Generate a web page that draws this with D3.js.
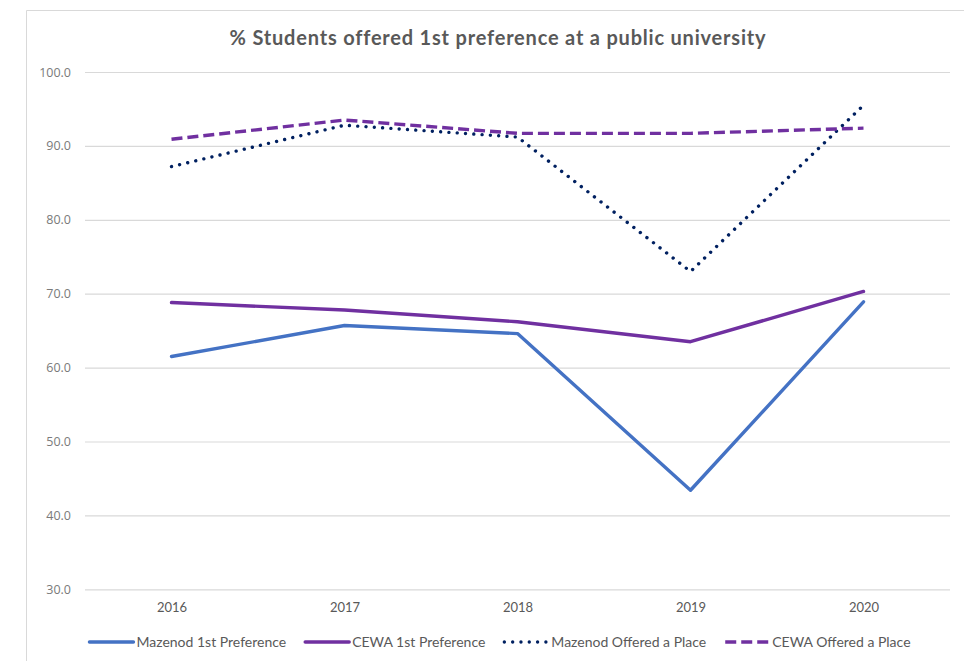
<!DOCTYPE html>
<html>
<head>
<meta charset="utf-8">
<script src="https://cdn.jsdelivr.net/npm/d3@7"></script>
<style>
  html, body { margin: 0; padding: 0; background: #ffffff; }
  svg { display: block; }
</style>
</head>
<body>
<svg id="chart" width="964" height="661"></svg>
<script>
// Years on the category axis
const years = ["2016", "2017", "2018", "2019", "2020"];

// Percentage of students per series
const mazenodFirst   = [61.5, 65.7, 64.6, 43.4, 68.9];
const cewaFirst      = [68.8, 67.8, 66.2, 63.5, 70.3];
const mazenodOffered = [87.2, 92.8, 91.2, 73.0, 95.5];
const cewaOffered    = [90.9, 93.5, 91.7, 91.7, 92.4];

// Value-axis ticks
const yTicks = [30, 40, 50, 60, 70, 80, 90, 100];

const seriesNames = ["Mazenod 1st Preference", "CEWA 1st Preference", "Mazenod Offered a Place", "CEWA Offered a Place"];
const seriesValues = [mazenodFirst, cewaFirst, mazenodOffered, cewaOffered];

const styles = [
  { color: "#4472C4", dash: null, cap: "round" },
  { color: "#7030A0", dash: null, cap: "round" },
  { color: "#002060", dash: "0.01 8.3", cap: "round" },
  { color: "#7030A0", dash: "11 5", cap: "butt" }
];

const textFont = "Lato, 'Open Sans', sans-serif";
const svg = d3.select("#chart");

// chart frame (top and left edges)
svg.append("path")
  .attr("d", "M26.5,661 L26.5,10.5 L964,10.5")
  .attr("fill", "none")
  .attr("stroke", "#d9d9d9")
  .attr("stroke-width", 1);

const plot = { left: 85, right: 950, top: 72, bottom: 589.3 };

const x = d3.scalePoint().domain(years).range([plot.left, plot.right]).padding(0.5);
const y = d3.scaleLinear().domain([30, 100]).range([plot.bottom, plot.top]);

// title
svg.append("text")
  .attr("x", 498).attr("y", 45)
  .attr("text-anchor", "middle")
  .attr("font-family", textFont)
  .attr("font-weight", "bold")
  .attr("font-size", 20)
  .attr("letter-spacing", 0.8)
  .attr("fill", "#595959")
  .text("% Students offered 1st preference at a public university");

// horizontal gridlines
const yAxis = d3.axisLeft(y)
  .tickValues(yTicks)
  .tickSize(-(plot.right - plot.left))
  .tickPadding(14)
  .tickFormat(d3.format(".1f"));

const gy = svg.append("g")
  .attr("transform", `translate(${plot.left},0)`)
  .call(yAxis);
gy.select(".domain").remove();
gy.selectAll(".tick line").attr("stroke", "#d9d9d9").attr("stroke-width", 1.2);
gy.selectAll(".tick text")
  .attr("font-family", "'Open Sans', sans-serif")
  .attr("font-size", 12.5)
  .attr("fill", "#7a7a7a");

// category labels
const xAxis = d3.axisBottom(x).tickSize(0).tickPadding(13);
const gx = svg.append("g")
  .attr("transform", `translate(0,${plot.bottom})`)
  .call(xAxis);
gx.select(".domain").remove();
gx.selectAll(".tick text")
  .attr("font-family", textFont)
  .attr("font-size", 13)
  .attr("fill", "#595959");

// series lines
const line = d3.line()
  .x((d, i) => x(years[i]))
  .y(d => y(d));

seriesValues.forEach((vals, k) => {
  const s = styles[k];
  svg.append("path")
    .datum(vals)
    .attr("d", line)
    .attr("fill", "none")
    .attr("stroke", s.color)
    .attr("stroke-width", 3.4)
    .attr("stroke-linejoin", "round")
    .attr("stroke-linecap", s.cap)
    .attr("stroke-dasharray", s.dash);
});

// legend
const legend = svg.append("g");
const legendY = 642;
const sampleW = 44;
let cursor = 0;
seriesNames.forEach((name, k) => {
  const s = styles[k];
  const g = legend.append("g");
  g.append("line")
    .attr("x1", cursor).attr("x2", cursor + sampleW)
    .attr("y1", legendY).attr("y2", legendY)
    .attr("stroke", s.color)
    .attr("stroke-width", 3.4)
    .attr("stroke-linecap", s.cap)
    .attr("stroke-dasharray", s.dash);
  const t = g.append("text")
    .attr("x", cursor + sampleW + 3)
    .attr("y", legendY + 4.5)
    .attr("font-family", textFont)
    .attr("font-size", 14)
    .attr("fill", "#595959")
    .text(name);
  cursor += sampleW + 3 + t.node().getComputedTextLength() + 19;
});
const totalW = cursor - 19;
legend.attr("transform", `translate(${500 - totalW / 2},0)`);
</script>
</body>
</html>
